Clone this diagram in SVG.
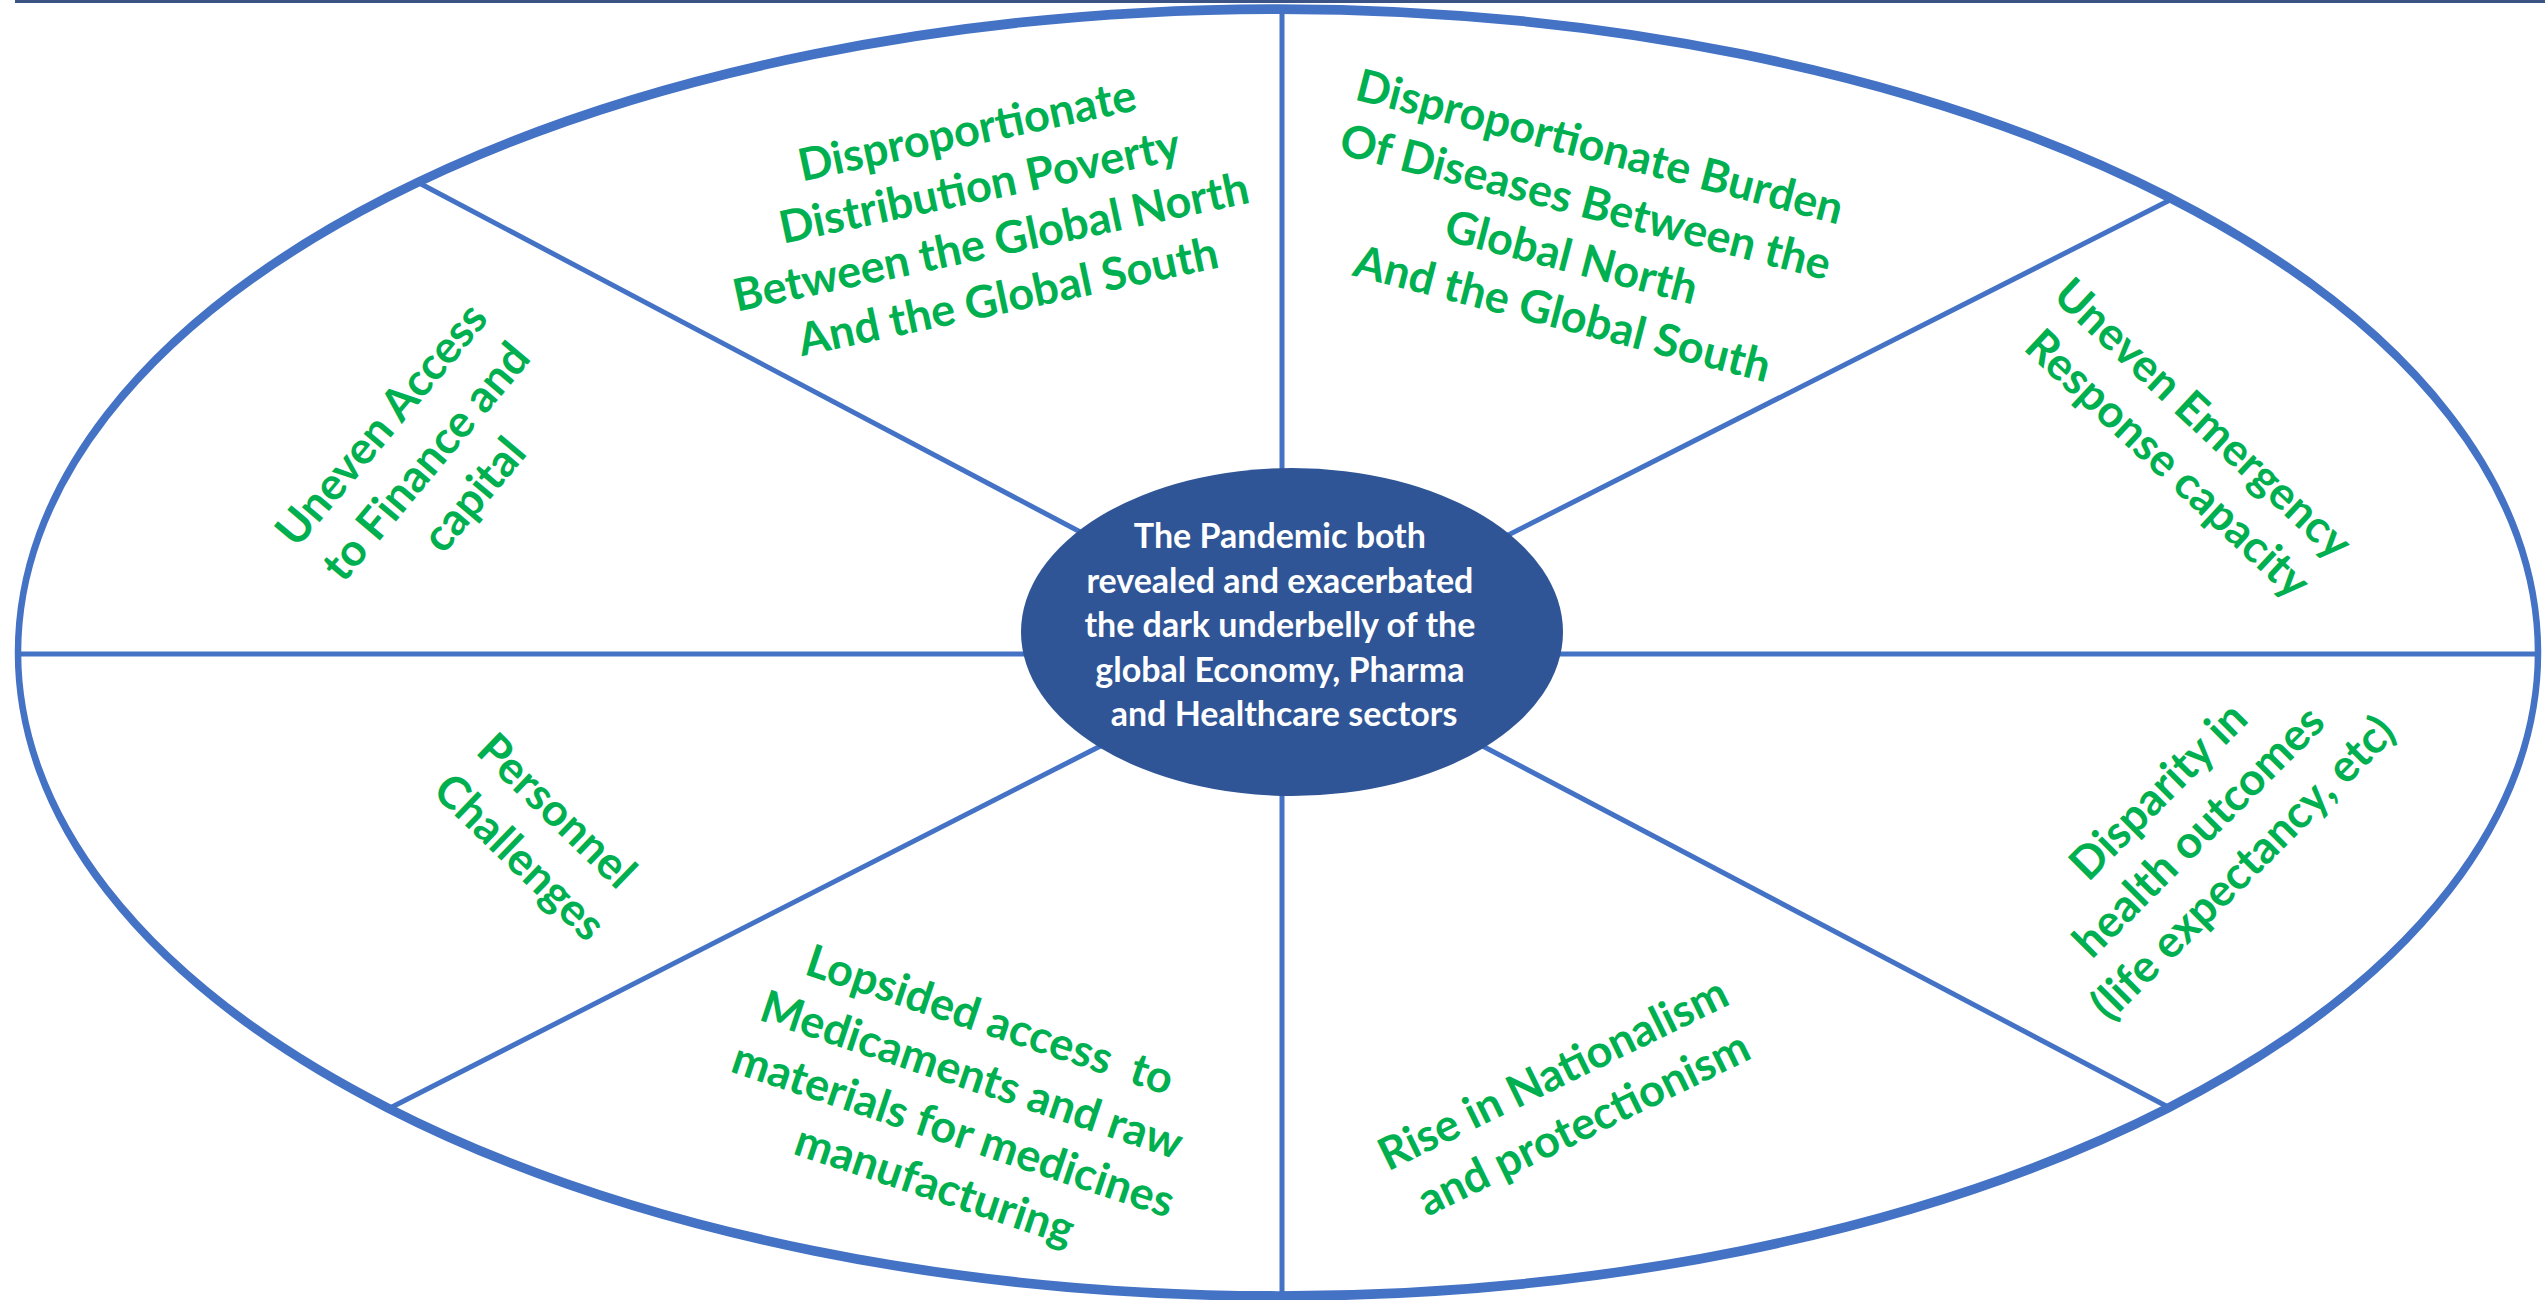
<svg xmlns="http://www.w3.org/2000/svg" width="2547" height="1300" viewBox="0 0 2547 1300">
<style>
.ln{stroke:#4472C4;stroke-width:5;fill:none;stroke-linecap:butt}
.lbl{font-family:Lato,"Open Sans","Liberation Sans",sans-serif;font-weight:bold;font-size:45px;fill:#00B050;text-anchor:middle}
.ctr{font-family:Lato,"Open Sans","Liberation Sans",sans-serif;font-weight:bold;font-size:34px;fill:#FFFFFF;text-anchor:middle}
</style>
<rect x="0" y="0" width="2547" height="1300" fill="#FFFFFF"/>
<rect x="15" y="0" width="2530" height="3" fill="#3B5485"/>
<g id="connectors">
  <line class="ln" x1="1282" y1="9" x2="1282" y2="1296"/>
  <line class="ln" x1="18" y1="654" x2="2538" y2="654"/>
  <line class="ln" x1="421" y1="184" x2="1285" y2="640"/>
  <line class="ln" x1="2170" y1="200" x2="1285" y2="648"/>
  <line class="ln" x1="390" y1="1108" x2="1285" y2="652"/>
  <line class="ln" x1="2170" y1="1108" x2="1285" y2="642"/>
</g>
<g id="outer-ring">
  <ellipse cx="1278" cy="435" rx="1260" ry="429" transform="scale(1,1.5)" fill="none" stroke="#4472C4" stroke-width="6.5"/>
</g>
<g id="center-node">
  <ellipse cx="1292" cy="632" rx="271" ry="164" fill="#2F5597"/>
  <text class="ctr">
    <tspan x="1284" y="548">The Pandemic both</tspan>
    <tspan x="1284" y="592.5">revealed and exacerbated</tspan>
    <tspan x="1284" y="637">the dark underbelly of the</tspan>
    <tspan x="1284" y="681.5">global Economy, Pharma</tspan>
    <tspan x="1284" y="726">and Healthcare sectors</tspan>
  </text>
</g>
<g id="label-poverty" transform="translate(990,212) rotate(-12)">
  <text class="lbl">
    <tspan x="0" y="-69">Disproportionate</tspan>
    <tspan x="0" y="-12">Distribution Poverty</tspan>
    <tspan x="0" y="45">Between the Global North</tspan>
    <tspan x="0" y="102">And the Global South</tspan>
  </text>
</g>
<g id="label-diseases" transform="translate(1584,230) rotate(14.5)">
  <text class="lbl">
    <tspan x="0" y="-69">Disproportionate Burden</tspan>
    <tspan x="0" y="-12">Of Diseases Between the</tspan>
    <tspan x="0" y="45">Global North</tspan>
    <tspan x="0" y="102">And the Global South</tspan>
  </text>
</g>
<g id="label-emergency" transform="translate(2188,442) rotate(43)">
  <text class="lbl">
    <tspan x="0" y="-12">Uneven Emergency</tspan>
    <tspan x="0" y="45">Response capacity</tspan>
  </text>
</g>
<g id="label-finance" transform="translate(429,457) rotate(-50)">
  <text class="lbl">
    <tspan x="0" y="-42">Uneven Access</tspan>
    <tspan x="0" y="16">to Finance and</tspan>
    <tspan x="0" y="74">capital</tspan>
  </text>
</g>
<g id="label-personnel" transform="translate(541,835) rotate(44)">
  <text class="lbl">
    <tspan x="0" y="-13">Personnel</tspan>
    <tspan x="0" y="46">Challenges</tspan>
  </text>
</g>
<g id="label-medicaments" transform="translate(963,1101) rotate(18.5)">
  <text class="lbl" xml:space="preserve"><tspan x="0" y="-70">Lopsided access  to</tspan><tspan x="0" y="-12">Medicaments and raw</tspan><tspan x="0" y="46">materials for medicines</tspan><tspan x="0" y="104">manufacturing</tspan></text>
</g>
<g id="label-nationalism" transform="translate(1570,1096) rotate(-26)">
  <text class="lbl">
    <tspan x="0" y="-12">Rise in Nationalism</tspan>
    <tspan x="0" y="46">and protectionism</tspan>
  </text>
</g>
<g id="label-health" transform="translate(2202,827) rotate(-45)">
  <text class="lbl">
    <tspan x="0" y="-41">Disparity in</tspan>
    <tspan x="0" y="16">health outcomes</tspan>
    <tspan x="0" y="73">(life expectancy, etc)</tspan>
  </text>
</g>
</svg>
